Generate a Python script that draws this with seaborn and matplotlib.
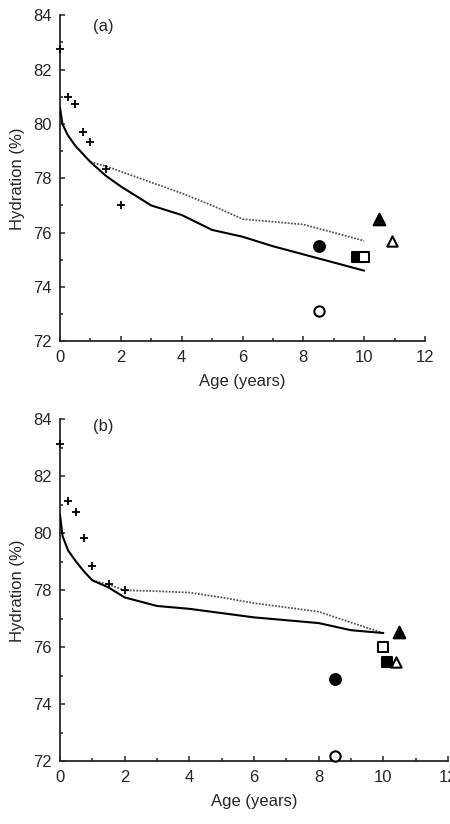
import matplotlib
matplotlib.use("Agg")
import matplotlib.pyplot as plt
import seaborn as sns
import pandas as pd
from matplotlib.ticker import MultipleLocator

# ---------------- data ----------------
# Panel (a)
a_plus_age = [0, 0.25, 0.5, 0.75, 1.0, 1.5, 2.0]
a_plus_hyd = [82.75, 81.0, 80.72, 79.7, 79.32, 78.33, 77.0]

a_solid_age = [0, 0.08, 0.25, 0.5, 0.75, 1, 1.5, 2, 3, 4, 5, 6, 7, 8, 9, 10]
a_solid_hyd = [80.6, 80.0, 79.6, 79.2, 78.9, 78.6, 78.1, 77.7, 77.0, 76.65, 76.1, 75.85, 75.5, 75.2, 74.9, 74.6]

a_dot_age = [1, 1.5, 2, 3, 4, 5, 6, 7, 8, 9, 10]
a_dot_hyd = [78.6, 78.45, 78.25, 77.85, 77.45, 77.0, 76.5, 76.4, 76.3, 76.0, 75.7]

a_pts_age = [8.5, 8.5, 9.76, 10.0, 10.49, 10.9]
a_pts_hyd = [75.5, 73.1, 75.1, 75.1, 76.5, 75.7]
a_pts_kind = ["filled_circle", "open_circle", "filled_square", "open_square", "filled_triangle", "open_triangle"]

# Panel (b)
b_plus_age = [0, 0.25, 0.5, 0.75, 1.0, 1.5, 2.0]
b_plus_hyd = [83.15, 81.15, 80.75, 79.85, 78.85, 78.22, 78.02]

b_solid_age = [0, 0.08, 0.25, 0.5, 0.75, 1, 1.5, 2, 3, 4, 5, 6, 7, 8, 9, 10]
b_solid_hyd = [80.65, 79.9, 79.4, 79.0, 78.65, 78.35, 78.1, 77.75, 77.45, 77.35, 77.2, 77.05, 76.95, 76.85, 76.6, 76.5]

b_dot_age = [1, 1.5, 2, 3, 4, 5, 6, 7, 8, 9, 10]
b_dot_hyd = [78.35, 78.2, 78.0, 77.97, 77.92, 77.75, 77.55, 77.4, 77.25, 76.87, 76.5]

b_pts_age = [8.5, 8.5, 10.1, 10.0, 10.5, 10.4]
b_pts_hyd = [74.9, 72.2, 75.5, 76.0, 76.55, 75.5]
b_pts_kind = ["filled_circle", "open_circle", "filled_square", "open_square", "filled_triangle", "open_triangle"]

x_ticks = [0, 2, 4, 6, 8, 10, 12]
y_ticks = [72, 74, 76, 78, 80, 82, 84]

# ---------------- style ----------------
sns.set_style("ticks")
plt.rcParams["font.family"] = ["Liberation Sans", "DejaVu Sans"]

marker_style = {
    "filled_circle": dict(marker="o", fc="black", ec="black", s=60),
    "open_circle": dict(marker="o", fc="white", ec="black", s=55),
    "filled_square": dict(marker="s", fc="black", ec="black", s=62),
    "open_square": dict(marker="s", fc="white", ec="black", s=60),
    "filled_triangle": dict(marker="^", fc="black", ec="black", s=70),
    "open_triangle": dict(marker="^", fc="white", ec="black", s=55),
}

fig = plt.figure(figsize=(4.5, 8.24), dpi=100)
ax_a = fig.add_axes([60/450, 1-341.3/824, 365/450, 326/824])
ax_b = fig.add_axes([60/450, 1-761.3/824, 388/450, 342/824])


def draw(ax, plus_age, plus_hyd, s_age, s_hyd, d_age, d_hyd, p_age, p_hyd, p_kind, label, lab_xy):
    sns.lineplot(x=s_age, y=s_hyd, ax=ax, color="black", lw=1.5, sort=False, zorder=3)
    sns.lineplot(x=d_age, y=d_hyd, ax=ax, color="#555555", lw=1.3,
                 linestyle=(0, (1, 0.8)), sort=False, zorder=2)
    sns.scatterplot(x=plus_age, y=plus_hyd, ax=ax, marker="+", color="black",
                    s=28, linewidth=1.3, zorder=4, clip_on=False)
    df = pd.DataFrame({"age": p_age, "hyd": p_hyd, "kind": p_kind})
    for _, r in df.iterrows():
        st = marker_style[r["kind"]]
        sns.scatterplot(x=[r["age"]], y=[r["hyd"]], ax=ax, marker=st["marker"],
                        facecolor=st["fc"], edgecolor=st["ec"], s=st["s"],
                        linewidth=1.5, zorder=5, clip_on=False)
    ax.set_xlim(0, 12)
    ax.set_ylim(72, 84)
    ax.set_xticks(x_ticks)
    ax.set_yticks(y_ticks)
    ax.xaxis.set_minor_locator(MultipleLocator(1))
    ax.yaxis.set_minor_locator(MultipleLocator(1))
    ax.tick_params(which="both", direction="in", width=1.1, labelsize=12, pad=6)
    ax.tick_params(which="major", length=3.5)
    ax.tick_params(which="minor", length=2.5)
    for sp in ["top", "right"]:
        ax.spines[sp].set_visible(False)
    for sp in ["left", "bottom"]:
        ax.spines[sp].set_linewidth(1.3)
    ax.set_xlabel("Age (years)", fontsize=12, labelpad=7)
    ax.set_ylabel("Hydration (%)", fontsize=12, labelpad=6)
    ax.text(lab_xy[0], lab_xy[1], label, transform=ax.transAxes, fontsize=12,
            ha="left", va="center")


draw(ax_a, a_plus_age, a_plus_hyd, a_solid_age, a_solid_hyd, a_dot_age, a_dot_hyd,
     a_pts_age, a_pts_hyd, a_pts_kind, "(a)", (0.09, 0.965))
draw(ax_b, b_plus_age, b_plus_hyd, b_solid_age, b_solid_hyd, b_dot_age, b_dot_hyd,
     b_pts_age, b_pts_hyd, b_pts_kind, "(b)", (0.085, 0.98))

fig.savefig("out.png", dpi=100)
